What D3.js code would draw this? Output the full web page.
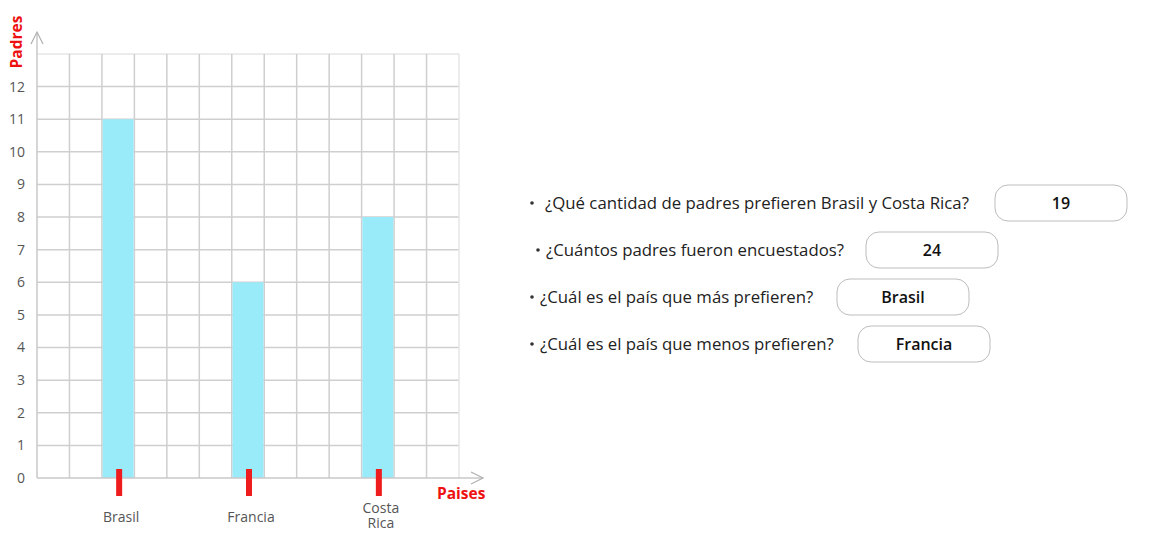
<!DOCTYPE html>
<html><head><meta charset="utf-8">
<script src="https://cdn.jsdelivr.net/npm/d3@7"></script>
<style>body{margin:0;background:#fff;}svg{display:block;font-family:"Open Sans","Noto Sans",sans-serif;}</style>
</head><body><svg id="c" width="1156" height="554"></svg>
<script>
const categories = ["Brasil","Francia","Costa Rica"];
const values = [11, 6, 8];
const columnSlots = [2, 6, 10];
const yTicks = [0,1,2,3,4,5,6,7,8,9,10,11,12];
const questions = ["¿Qué cantidad de padres prefieren Brasil y Costa Rica?","¿Cuántos padres fueron encuestados?","¿Cuál es el país que más prefieren?","¿Cuál es el país que menos prefieren?"];
const answers = ["19","24","Brasil","Francia"];

const svg = d3.select("#c");
const x0 = 37, x1 = 459, yBase = 478, yTop = 54;
const nCols = 13;
const y = d3.scaleLinear().domain([0,13]).range([yBase, yTop]);
const xc = d3.scaleLinear().domain([0,nCols]).range([x0, x1]);
const colW = (x1-x0)/nCols;

const g = svg.append("g");
g.selectAll("line.h").data(d3.range(1,14)).join("line")
  .attr("x1",x0).attr("x2",x1).attr("y1",d=>y(d)).attr("y2",d=>y(d))
  .attr("stroke",d=>d===13?"#e6e6e6":"#cfcfcf").attr("stroke-width",1.5);
g.selectAll("line.v").data(d3.range(1,14)).join("line")
  .attr("x1",d=>xc(d)).attr("x2",d=>xc(d)).attr("y1",yTop).attr("y2",yBase)
  .attr("stroke",d=>d===13?"#e6e6e6":"#cfcfcf").attr("stroke-width",1.5);
g.selectAll("rect.bar").data(values).join("rect")
  .attr("x",(d,i)=>xc(columnSlots[i])+0.75).attr("width",colW-1.5)
  .attr("y",d=>y(d)).attr("height",d=>yBase-y(d)).attr("fill","#9aebfa");
g.append("line").attr("x1",x0).attr("x2",x0).attr("y1",yBase).attr("y2",32).attr("stroke","#c8c8c8").attr("stroke-width",1.5);
g.append("path").attr("d",`M${x0-6},${44} L${x0},${32} L${x0+6},${44}`).attr("fill","none").attr("stroke","#b0b0b0").attr("stroke-width",1.2);
g.append("line").attr("x1",x0).attr("x2",483).attr("y1",yBase).attr("y2",yBase).attr("stroke","#c8c8c8").attr("stroke-width",1.5);
g.append("path").attr("d",`M471,${yBase-6} L483,${yBase} L471,${yBase+6}`).attr("fill","none").attr("stroke","#b0b0b0").attr("stroke-width",1.2);
g.selectAll("text.yt").data(yTicks).join("text")
  .attr("x",25).attr("y",d=>y(d)).attr("dy","0.35em").attr("text-anchor","end")
  .attr("font-size",14).attr("fill","#555").text(d=>d);
g.selectAll("rect.rt").data(categories).join("rect")
  .attr("x",(d,i)=>xc(columnSlots[i])+colW/2-2).attr("width",6)
  .attr("y",469).attr("height",27).attr("fill","#ee1c1c");
categories.forEach((c,i)=>{
  const cx = xc(columnSlots[i])+colW/2+3;
  const parts = c.split(" ");
  if(parts.length===1){
    g.append("text").attr("text-anchor","middle").attr("font-size",14).attr("fill","#555")
      .attr("x",cx).attr("y",522).text(c);
  } else {
    parts.forEach((p,j)=>g.append("text").attr("text-anchor","middle").attr("font-size",14).attr("fill","#555")
      .attr("x",cx).attr("y",513+j*15).text(p));
  }
});
g.append("text").attr("transform","translate(22,42) rotate(-90)").attr("text-anchor","middle")
  .attr("font-size",15.5).attr("font-weight","bold").attr("fill","#ee1111").text("Padres");
g.append("text").attr("x",437).attr("y",499).attr("font-size",15.5).attr("font-weight","bold").attr("fill","#ee1111").text("Paises");

const qs = [
 {bx:530,tx:545,y:203,box:995},
 {bx:536,tx:546,y:250,box:866},
 {bx:530,tx:540,y:297,box:837},
 {bx:530,tx:540,y:344,box:858}
];
questions.forEach((q,i)=>{
  const p = qs[i];
  svg.append("circle").attr("cx",p.bx+2).attr("cy",p.y).attr("r",1.8).attr("fill","#333");
  svg.append("text").attr("x",p.tx).attr("y",p.y).attr("dy","0.35em").attr("font-size",16.8).attr("fill","#222").text(q);
  svg.append("rect").attr("x",p.box).attr("y",p.y-18).attr("width",132).attr("height",36).attr("rx",13)
    .attr("fill","#fff").attr("stroke","#bdbdbd").attr("stroke-width",1);
  svg.append("text").attr("x",p.box+66).attr("y",p.y).attr("dy","0.35em").attr("text-anchor","middle")
    .attr("font-size",16).attr("font-weight","600").attr("fill","#111").text(answers[i]);
});
</script></body></html>
